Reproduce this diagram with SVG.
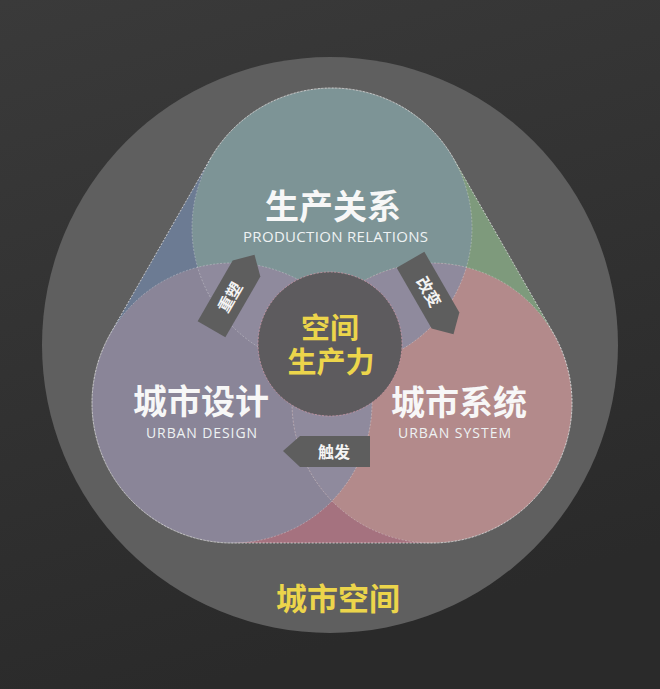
<svg xmlns="http://www.w3.org/2000/svg" width="660" height="689" viewBox="0 0 660 689">
  <defs>
    <linearGradient id="bg" x1="0" y1="0" x2="0.3" y2="1">
      <stop offset="0" stop-color="#3a3a3a"/>
      <stop offset="1" stop-color="#2a2a2a"/>
    </linearGradient>
    <clipPath id="clipT"><circle cx="332" cy="228" r="140"/></clipPath>
    <clipPath id="clipL"><circle cx="232" cy="403" r="140"/></clipPath>
    <style>
      .dash { fill: none; stroke: #e6e6e6; stroke-width: 1; stroke-dasharray: 2 1.5; }
      .cn { font-family: "Noto Sans CJK SC", "Noto Sans", sans-serif; font-weight: 700; text-anchor: middle; }
      .en { font-family: "Open Sans", "Liberation Sans", sans-serif; font-weight: 400; text-anchor: middle; fill: #eef2f3; }
      .white { fill: #f7f7f7; }
      .yellow { fill: #ecd54b; }
      .tag { fill: #5e5e5e; }
      .tagtext { font-family: "Noto Sans CJK SC", sans-serif; font-weight: 700; font-size: 16px; fill: #f4f4f4; text-anchor: middle; }
    </style>
  </defs>

  <rect x="0" y="0" width="660" height="689" fill="url(#bg)"/>

  <g id="urban-space">
    <circle cx="330" cy="345" r="288" fill="#5f5f5f"/>
    <text class="cn yellow" x="338" y="610" font-size="31">城市空间</text>
  </g>

  <g id="hull">
    <polygon points="332,228 210.45,158.55 110.45,333.55 232,403" fill="#6c7b93"/>
    <polygon points="332,228 453.55,158.55 553.55,333.55 432,403" fill="#7e9a7c"/>
    <polygon points="232,403 232,543 432,543 432,403" fill="#a5727f"/>
  </g>

  <g id="node-production">
    <circle cx="332" cy="228" r="140" fill="#7d9496"/>
  </g>
  <g id="node-design">
    <circle cx="232" cy="403" r="140" fill="#8a8598"/>
  </g>
  <g id="node-system">
    <circle cx="432" cy="403" r="140" fill="#b38a8b"/>
  </g>

  <g id="overlaps" fill="#8f8a9d">
    <circle cx="232" cy="403" r="140" clip-path="url(#clipT)"/>
    <circle cx="432" cy="403" r="140" clip-path="url(#clipT)"/>
    <circle cx="432" cy="403" r="140" clip-path="url(#clipL)"/>
  </g>

  <g id="outlines">
    <circle class="dash" cx="332" cy="228" r="140" stroke-opacity="0.35"/>
    <circle class="dash" cx="232" cy="403" r="140" stroke-opacity="0.35"/>
    <circle class="dash" cx="432" cy="403" r="140" stroke-opacity="0.35"/>
    <path class="dash" stroke-opacity="0.75" d="M210.45,158.55 A140,140 0 0 1 453.55,158.55 L553.55,333.55 A140,140 0 0 1 432,543 L232,543 A140,140 0 0 1 110.45,333.55 Z"/>
  </g>

  <g id="node-production-label">
    <text class="cn white" x="333" y="219" font-size="34">生产关系</text>
    <text class="en" x="335.5" y="242" font-size="15" textLength="185">PRODUCTION RELATIONS</text>
  </g>
  <g id="node-design-label">
    <text class="cn white" x="201" y="414" font-size="34">城市设计</text>
    <text class="en" x="201.5" y="438" font-size="14" textLength="111">URBAN DESIGN</text>
  </g>
  <g id="node-system-label">
    <text class="cn white" x="459" y="415" font-size="34">城市系统</text>
    <text class="en" x="454.5" y="438" font-size="14" textLength="113">URBAN SYSTEM</text>
  </g>

  <g id="node-core">
    <circle cx="330" cy="344" r="72" fill="#5d5b5e"/>
    <circle cx="330" cy="344" r="72" fill="none" stroke="#d59aa8" stroke-width="1" stroke-dasharray="2 1.5" stroke-opacity="0.7"/>
    <text class="cn yellow" x="330" y="339" font-size="29">空间</text>
    <text class="cn yellow" x="331" y="373" font-size="29">生产力</text>
  </g>

  <g id="connectors">
    <g transform="translate(233,292) rotate(-60)">
      <polygon class="tag" points="-43,-16 27,-16 43,0 27,16 -43,16"/>
      <text class="tagtext" x="-6" y="6">重塑</text>
    </g>
    <g transform="translate(432,297) rotate(60)">
      <polygon class="tag" points="-43,-16 27,-16 43,0 27,16 -43,16"/>
      <text class="tagtext" x="-6" y="6">改变</text>
    </g>
    <g>
      <polygon class="tag" points="370,436 300,436 283,451 300,467 370,467"/>
      <text class="tagtext" x="334" y="458">触发</text>
    </g>
  </g>
</svg>
